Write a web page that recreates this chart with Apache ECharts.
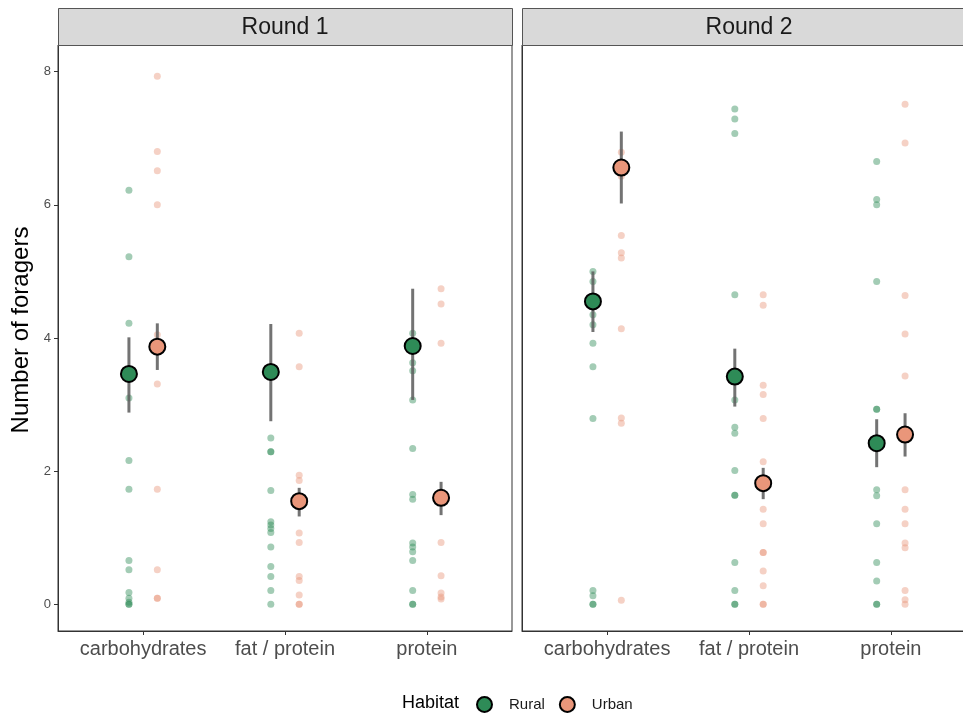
<!DOCTYPE html>
<html>
<head>
<meta charset="utf-8">
<script src="https://cdn.jsdelivr.net/npm/echarts@6/dist/echarts.min.js"></script>
<style>
html,body{margin:0;padding:0;background:#fff;}
#chart{width:963px;height:713px;}
</style>
</head>
<body>
<div id="chart"></div>
<script>
// ---------- data ----------
const categories = ['carbohydrates', 'fat / protein', 'protein'];
const rounds = ['Round 1', 'Round 2'];
const habitats = ['Rural', 'Urban'];
const yTicks = [0, 2, 4, 6, 8];

// raw observations: [carbohydrates, fat / protein, protein]
const r1Rural = [
  [6.22, 5.22, 4.22, 3.10, 2.16, 1.73, 0.66, 0.52, 0.18, 0.09, 0.03, 0, 0],
  [2.50, 2.29, 2.29, 1.71, 1.24, 1.19, 1.14, 1.08, 0.86, 0.57, 0.42, 0.21, 0],
  [4.07, 3.63, 3.51, 3.07, 2.34, 1.65, 1.58, 0.92, 0.86, 0.79, 0.66, 0.21, 0, 0]
];
const r1Urban = [
  [7.93, 6.80, 6.51, 6.00, 4.05, 3.31, 1.73, 0.52, 0.09, 0.09],
  [4.07, 3.57, 1.94, 1.86, 1.07, 0.93, 0.42, 0.36, 0.14, 0, 0],
  [4.74, 4.51, 3.92, 0.93, 0.43, 0.17, 0.11, 0.08]
];
const r2Rural = [
  [5.00, 4.85, 4.35, 4.20, 3.92, 3.57, 2.79, 0.21, 0.13, 0, 0],
  [7.44, 7.29, 7.07, 4.65, 3.07, 2.66, 2.57, 2.01, 1.64, 1.64, 0.63, 0.21, 0, 0],
  [6.65, 6.08, 6.00, 4.85, 2.93, 2.93, 1.72, 1.63, 1.21, 0.63, 0.35, 0, 0]
];
const r2Urban = [
  [6.79, 6.43, 5.54, 5.28, 5.20, 4.14, 2.80, 2.72, 0.06],
  [4.65, 4.49, 3.29, 3.15, 2.79, 2.14, 1.43, 1.21, 0.78, 0.78, 0.50, 0.28, 0, 0],
  [7.51, 6.93, 4.64, 4.06, 3.43, 1.72, 1.43, 1.21, 0.92, 0.85, 0.21, 0.07, 0]
];

// means and intervals: [carbohydrates, fat / protein, protein]
const r1RuralMean = [3.46, 3.49, 3.88];
const r1RuralLow  = [2.88, 2.75, 3.07];
const r1RuralHigh = [4.01, 4.21, 4.74];
const r1UrbanMean = [3.87, 1.55, 1.60];
const r1UrbanLow  = [3.52, 1.32, 1.34];
const r1UrbanHigh = [4.22, 1.75, 1.84];
const r2RuralMean = [4.55, 3.42, 2.42];
const r2RuralLow  = [4.09, 2.97, 2.06];
const r2RuralHigh = [5.00, 3.84, 2.78];
const r2UrbanMean = [6.56, 1.82, 2.55];
const r2UrbanLow  = [6.02, 1.58, 2.22];
const r2UrbanHigh = [7.10, 2.05, 2.87];

// ---------- styling ----------
const FONT = 'Liberation Sans, Arial, sans-serif';
const colors = { Rural: '#2e8b57', Urban: '#e9967a' };
const alphaColors = { Rural: 'rgba(46,139,87,0.55)', Urban: 'rgba(233,150,122,0.55)' };
const dodge = { Rural: -0.1, Urban: 0.1 };

const panels = [
  { raw: { Rural: r1Rural, Urban: r1Urban },
    mean: { Rural: r1RuralMean, Urban: r1UrbanMean },
    low: { Rural: r1RuralLow, Urban: r1UrbanLow },
    high: { Rural: r1RuralHigh, Urban: r1UrbanHigh } },
  { raw: { Rural: r2Rural, Urban: r2Urban },
    mean: { Rural: r2RuralMean, Urban: r2UrbanMean },
    low: { Rural: r2RuralLow, Urban: r2UrbanLow },
    high: { Rural: r2RuralHigh, Urban: r2UrbanHigh } }
];

const gridLefts = [58, 522];
const gridW = 454, gridTop = 45, gridH = 586;

const grids = gridLefts.map(l => ({
  left: l, top: gridTop, width: gridW, height: gridH,
  outerBoundsMode: 'none', containLabel: false,
  show: true, borderColor: '#333', borderWidth: 1, backgroundColor: '#fff'
}));

const xAxes = gridLefts.map((l, i) => ({
  type: 'value', gridIndex: i, min: 0.4, max: 3.6,
  axisLine: { show: true, onZero: false, lineStyle: { color: '#333', width: 1 } },
  axisTick: { show: true, length: 4, lineStyle: { color: '#333' }, customValues: [1, 2, 3] },
  axisLabel: {
    show: true, customValues: [1, 2, 3], margin: 8,
    color: '#4d4d4d', fontSize: 20, fontFamily: FONT,
    formatter: v => categories[Math.round(v) - 1] || ''
  },
  splitLine: { show: false }
}));

const yAxes = gridLefts.map((l, i) => ({
  type: 'value', gridIndex: i, min: -0.4, max: 8.4,
  axisLine: { show: true, onZero: false, lineStyle: { color: '#333', width: 1 } },
  axisTick: { show: i === 0, length: 4, lineStyle: { color: '#333' }, customValues: yTicks },
  axisLabel: { show: i === 0, customValues: yTicks, margin: 7, color: '#4d4d4d', fontSize: 13, fontFamily: FONT },
  splitLine: { show: false }
}));

const series = [];
panels.forEach((pan, pi) => {
  habitats.forEach(h => {
    const pts = [];
    pan.raw[h].forEach((vals, ci) => vals.forEach(v => pts.push([ci + 1 + dodge[h], v])));
    series.push({
      name: h + ' obs', type: 'scatter', xAxisIndex: pi, yAxisIndex: pi,
      symbol: 'circle', symbolSize: 7, z: 2, silent: true,
      itemStyle: { color: alphaColors[h], borderWidth: 0 },
      data: pts
    });
  });
  habitats.forEach(h => {
    const bars = pan.mean[h].map((m, ci) => [ci + 1 + dodge[h], pan.low[h][ci], pan.high[h][ci]]);
    series.push({
      name: h + ' ci', type: 'custom', xAxisIndex: pi, yAxisIndex: pi, z: 3, silent: true,
      encode: { x: 0, y: [1, 2] },
      renderItem: (params, api) => {
        const x = api.value(0);
        const a = api.coord([x, api.value(1)]);
        const b = api.coord([x, api.value(2)]);
        return { type: 'line', shape: { x1: a[0], y1: a[1], x2: b[0], y2: b[1] },
          style: { stroke: 'rgba(90,90,90,0.85)', lineWidth: 3 } };
      },
      data: bars
    });
  });
  habitats.forEach(h => {
    series.push({
      name: h, type: 'scatter', xAxisIndex: pi, yAxisIndex: pi,
      symbol: 'circle', symbolSize: 16, z: 4,
      itemStyle: { color: colors[h], borderColor: '#000', borderWidth: 2, opacity: 1 },
      data: pan.mean[h].map((m, ci) => [ci + 1 + dodge[h], m])
    });
  });
});

const graphics = [];
gridLefts.forEach((l, i) => {
  graphics.push({
    type: 'rect', left: l, top: 8, z: 10,
    shape: { width: gridW, height: gridTop - 8 },
    style: { fill: '#d9d9d9', stroke: '#555', lineWidth: 1 }
  });
  graphics.push({
    type: 'text', x: l + gridW / 2, y: (8 + gridTop) / 2 + 1, z: 11,
    style: { text: rounds[i], fill: '#1a1a1a', font: '23px ' + FONT, textAlign: 'center', textVerticalAlign: 'middle' }
  });
});
graphics.push({
  type: 'text', x: 21, y: gridTop + gridH / 2 - 8, rotation: Math.PI / 2, z: 11,
  style: { text: 'Number of foragers', fill: '#000', font: '24px ' + FONT, textAlign: 'center', textVerticalAlign: 'middle' }
});
graphics.push({
  type: 'text', x: 402, y: 703, z: 11,
  style: { text: 'Habitat', fill: '#000', font: '18px ' + FONT, textAlign: 'left', textVerticalAlign: 'middle' }
});

const option = {
  animation: false,
  backgroundColor: '#fff',
  grid: grids,
  xAxis: xAxes,
  yAxis: yAxes,
  legend: {
    left: 476, top: 696, orient: 'horizontal', padding: 0,
    itemWidth: 15, itemHeight: 15, itemGap: 14,
    textStyle: { fontSize: 15, color: '#1a1a1a', fontFamily: FONT, padding: [0, 0, 0, 12] },
    data: habitats.map(h => ({ name: h, icon: 'circle',
      itemStyle: { color: colors[h], borderColor: '#000', borderWidth: 2 } })),
    selectedMode: false
  },
  graphic: graphics,
  series: series
};

const chart = echarts.init(document.getElementById('chart'), null, { renderer: 'canvas' });
chart.setOption(option);
</script>
</body>
</html>
